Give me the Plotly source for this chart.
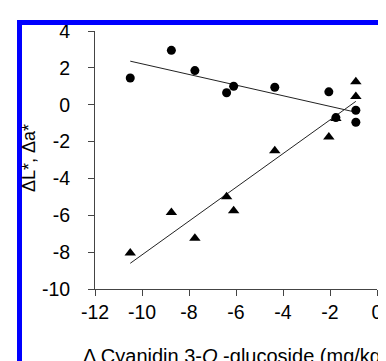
import numpy as np
import plotly.graph_objects as go

# Data
x_cyan = [-10.5, -8.75, -7.75, -6.4, -6.1, -4.35, -2.05, -1.75, -0.9, -0.9]
dL = [1.45, 2.95, 1.85, 0.65, 1.0, 0.95, 0.7, -0.7, -0.3, -0.95]
da = [-8.05, -5.85, -7.25, -5.0, -5.75, -2.5, -1.75, -0.75, 0.45, 1.25]
x_ticks = [-12, -10, -8, -6, -4, -2, 0]
y_ticks = [4, 2, 0, -2, -4, -6, -8, -10]

W, H = 386, 361
ML, MR, MT, MB = 87, 17, 23, 80
PW, PH = W - ML - MR, H - MT - MB

def px(xp):
    return (xp - ML) / PW

def py(yp):
    return (H - MB - yp) / PH

FONT = "Liberation Sans, Arial, sans-serif"
FS = 19.5

fig = go.Figure()

xs = np.array(x_cyan)
xline = np.array([xs.min(), xs.max()])
for yv in (dL, da):
    k, b = np.polyfit(xs, np.array(yv), 1)
    fig.add_trace(go.Scatter(x=xline, y=k * xline + b, mode="lines",
                             line=dict(color="#222222", width=1),
                             showlegend=False, hoverinfo="skip"))

fig.add_trace(go.Scatter(x=x_cyan, y=dL, mode="markers",
                         marker=dict(symbol="circle", size=9, color="black"),
                         showlegend=False))
fig.add_trace(go.Scatter(x=x_cyan, y=da, mode="markers",
                         marker=dict(symbol="triangle-up", size=10, color="black"),
                         showlegend=False))

axis_common = dict(showline=True, linecolor="#444444", linewidth=1,
                   ticks="outside", tickcolor="#444444", ticklen=6, tickwidth=1,
                   showgrid=False, zeroline=False,
                   tickfont=dict(family=FONT, size=FS, color="black"))

fig.update_xaxes(range=[-12, 0], tickvals=x_ticks,
                 ticktext=[str(v) for v in x_ticks],
                 ticklabelstandoff=0, **axis_common)
fig.update_yaxes(range=[-10, 4], tickvals=y_ticks,
                 ticktext=[str(v) for v in y_ticks],
                 ticklabelstandoff=14, **axis_common)

blue = "#0000ff"
borders = [
    (9, 12, 385, 17),   # top
    (9, 12, 14, 361),   # left
    (383, 12, 385, 361),  # right
    (9, 358, 385, 361),  # bottom
]
shapes = []
for x0, y0, x1, y1 in borders:
    shapes.append(dict(type="rect", xref="paper", yref="paper",
                       x0=px(x0), x1=px(x1), y0=py(y1), y1=py(y0),
                       fillcolor=blue, line=dict(width=0), layer="above"))

annotations = [
    dict(text="Δ Cyanidin 3-<i>O</i> -glucoside (mg/kg)", xref="paper", yref="paper",
         x=px(73), y=py(361), xanchor="left", yanchor="bottom", showarrow=False,
         font=dict(family=FONT, size=20, color="black")),
    dict(text="ΔL*, Δa*", xref="paper", yref="paper",
         x=px(9), y=py(150), xanchor="left", yanchor="middle", textangle=-90,
         showarrow=False, font=dict(family=FONT, size=18, color="black")),
]

fig.update_layout(width=W, height=H,
                  margin=dict(l=ML, r=MR, t=MT, b=MB, pad=0),
                  paper_bgcolor="white", plot_bgcolor="white",
                  shapes=shapes, annotations=annotations, showlegend=False)

fig.write_html("out.html")
